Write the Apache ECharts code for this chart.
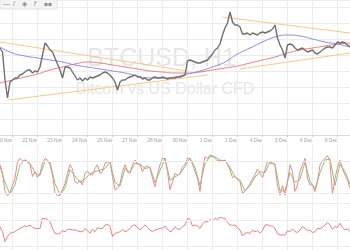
<!DOCTYPE html>
<html>
<head>
<meta charset="utf-8">
<script src="https://cdn.jsdelivr.net/npm/echarts@6/dist/echarts.min.js"></script>
<style>html,body{margin:0;padding:0;background:#fff;}#c{width:350px;height:250px;}</style>
</head>
<body>
<div id="c"></div>
<script>
// ---- data (hourly-ish samples) ----
const tickLabels = ["20 Nov","22 Nov","23 Nov","24 Nov","26 Nov","27 Nov","28 Nov","30 Nov","1 Dec","2 Dec","4 Dec","5 Dec","6 Dec","8 Dec","9 Dec"];

const price = [7910,7870,7590,7410,7570,7590,7610,7610,7640,7650,7670,7690,7690,7660,7680,7670,7720,7840,7960,7930,
7890,7870,7810,7750,7690,7610,7720,7720,7710,7670,7630,7590,7610,7580,7610,7590,7620,7610,7620,7630,
7640,7660,7670,7660,7640,7610,7570,7490,7570,7590,7590,7610,7620,7630,7640,7620,7620,7600,7610,7590,
7590,7610,7620,7610,7610,7620,7610,7600,7610,7610,7610,7620,7620,7630,7640,7780,7790,7780,7770,7760,
7760,7770,7780,7790,7820,7850,7890,7910,7950,8040,8110,8160,8270,8170,8140,8140,8120,8050,8050,8060,
8040,8060,8050,8040,8060,8070,8060,8070,8080,8100,8140,8010,7940,7890,7810,7940,7950,7940,7910,7890,
7900,7910,7890,7870,7880,7890,7860,7850,7870,7890,7910,7920,7920,7910,7940,7970,7960,7970,7960,7940,7920];

// moving averages sampled every 5 points
const maBlue = [7920,7860,7830,7810,7790,7770,7740,7720,7700,7680,7660,7630,7610,7610,7620,7650,7680,7720,7770,7850,7910,7970,8020,8040,8030,8000,7970,7950,7920];
const maRed  = [7560,7590,7620,7650,7690,7720,7750,7770,7760,7740,7720,7700,7680,7670,7660,7660,7670,7690,7710,7730,7760,7790,7820,7860,7890,7910,7930,7950,7960];

// trend lines: [index, price] end points
const upperLeft  = [[0,7970],[75,7680]];
const lowerLeft  = [[3,7390],[83,7640]];
const upperRight = [[89,8220],[140,8060]];
const lowerRight = [[96,7700],[140,7860]];

const stochK = [73,57,23,15,20,35,48,79,85,80,82,78,73,51,60,49,57,76,85,82,
73,54,20,15,16,26,38,57,73,65,41,38,44,35,57,61,54,54,66,73,
57,60,76,78,79,51,26,29,38,60,73,59,57,73,82,74,73,60,69,71,
66,48,32,55,73,85,85,60,26,41,57,53,57,69,73,85,85,74,60,48,
23,63,88,84,91,90,85,80,82,80,82,74,63,49,51,46,41,20,23,30,
38,46,54,65,57,49,63,80,76,76,73,32,16,34,16,41,73,60,23,35,
60,73,85,48,35,35,23,41,73,80,85,90,79,18,48,68,82,65,54,44,29];

// slower line sampled every 2 points
const stochD = [70,40,18,36,72,82,76,58,53,80,78,38,16,30,64,52,40,46,56,60,
63,66,78,40,33,66,59,76,74,66,68,40,62,85,44,50,56,70,85,68,
34,75,88,88,81,81,68,50,44,24,34,50,60,58,78,74,24,24,58,40,
46,78,42,28,58,82,84,34,74,60,36];

const rsi = [60,52,37,45,49.5,50.5,52,55,57,59,61,60,62,59,57,57,57,72.6,72,71,
67.5,57,49.5,48.5,49.5,53.6,52,55.7,55.7,54.6,54.6,53.6,52,52,57,53.6,49.5,55.7,52,58,
57,57,62,63.4,60,44.4,49.5,50.5,52,55.7,52,53.6,57,61.8,62.3,58.7,54.6,58.7,62.3,58.7,
54.6,52,54.6,55.7,57,57.7,60.8,55.7,52,53.6,59.8,56.2,55.7,59.8,62.3,72.6,71,60.8,62.3,60.8,
57,63.9,67.5,67,71,68.5,72.6,71,74,73,72.6,66,62.3,61.8,62.3,58.7,54.6,45.4,49.5,50.5,
49.5,54,52,53.6,49.5,53.6,62.3,62.8,60.8,60.8,57,48.5,47,47,47,53.6,52,56.2,52,51,
54.6,59.8,57,53.6,54.6,50.5,52,57,57,58.7,62.3,66,62.3,55.7,59.8,58.7,65,58.7,54.6,56.7,52];

// ---- chart ----
const N = 146;
const cats = Array.from({length: N}, (_, i) => String(i));
const tickAt = (i) => i % 10 === 5;
const gridColor = '#ececec';
const FONT = 'Liberation Sans, Arial, sans-serif';

function xAx(grid, labels) {
  return {
    type: 'category', gridIndex: grid, data: cats, boundaryGap: false,
    axisLine: { show: labels, lineStyle: { color: '#dcdcdc' } },
    axisTick: { show: labels, interval: tickAt, length: 2, lineStyle: { color: '#d0d0d0' } },
    axisLabel: labels ? {
      show: true, interval: tickAt, align: 'right', margin: 3,
      fontSize: 4.8, color: '#a0a0a0', fontFamily: FONT,
      formatter: (v, i) => tickLabels[(i - 5) / 10]
    } : { show: false },
    splitLine: { show: true, interval: tickAt, lineStyle: { color: gridColor, width: 1 } }
  };
}
function hLines(vals) {
  return { silent: true, symbol: 'none', label: { show: false },
    lineStyle: { color: gridColor, type: 'solid', width: 1 },
    data: vals.map(v => ({ yAxis: v })) };
}
function seg(data, name) {
  return { type: 'line', name, data, xAxisIndex: 0, yAxisIndex: 0, symbol: 'none',
    lineStyle: { color: '#fcc887', width: 1 }, z: 2, silent: true };
}

const chart = echarts.init(document.getElementById('c'), null, { renderer: 'canvas' });
chart.setOption({
  animation: false,
  backgroundColor: '#fff',
  grid: [
    { left: 0, right: -12.5, top: 0, height: 135, outerBoundsMode: 'none' },
    { left: 0, right: -12.5, top: 145, height: 58.7, outerBoundsMode: 'none' },
    { left: 0, right: -12.5, top: 200.5, height: 65, outerBoundsMode: 'none' }
  ],
  xAxis: [ xAx(0, true), xAx(1, false), xAx(2, false) ],
  yAxis: [
    { type: 'value', gridIndex: 0, min: 7040, max: 8390, interval: 160,
      axisLabel: { show: false }, axisLine: { show: false }, axisTick: { show: false },
      splitLine: { lineStyle: { color: gridColor } } },
    { type: 'value', gridIndex: 1, min: 0, max: 110,
      axisLabel: { show: false }, axisLine: { show: false }, axisTick: { show: false },
      splitLine: { show: false } },
    { type: 'value', gridIndex: 2, min: 0, max: 100,
      axisLabel: { show: false }, axisLine: { show: false }, axisTick: { show: false },
      splitLine: { show: false } }
  ],
  graphic: [
    { type: 'text', z: 0, style: { text: 'BTCUSD, H1', x: 161.5, y: 59, font: '25px ' + FONT, fill: '#e6e6e6', align: 'center', verticalAlign: 'middle' } },
    { type: 'text', z: 0, style: { text: 'Bitcoin vs US Dollar CFD', x: 165, y: 90, font: '16px ' + FONT, fill: '#e6e6e6', align: 'center', verticalAlign: 'middle' } },
    { type: 'rect', z: 5, shape: { x: 0, y: -3, width: 57, height: 12 }, style: { fill: '#f3f3f3', stroke: '#e2e2e2' } },
    { type: 'text', z: 6, style: { text: '—', x: 3, y: 4, font: '7px ' + FONT, fill: '#8a8a8a', verticalAlign: 'middle' } },
    { type: 'text', z: 6, style: { text: '/', x: 13, y: 4, font: '7px ' + FONT, fill: '#8a8a8a', verticalAlign: 'middle' } },
    { type: 'text', z: 6, style: { text: '◈', x: 22, y: 4, font: '7px DejaVu Sans', fill: '#8a8a8a', verticalAlign: 'middle' } },
    { type: 'text', z: 6, style: { text: 'f', x: 34, y: 4, font: 'italic 7px ' + FONT, fill: '#8a8a8a', verticalAlign: 'middle' } },
    { type: 'text', z: 6, style: { text: '▪▪', x: 44, y: 4, font: '6px DejaVu Sans', fill: '#8a8a8a', verticalAlign: 'middle' } }
  ],
  series: [
    seg(upperLeft, 'ul'), seg(lowerLeft, 'll'), seg(upperRight, 'ur'), seg(lowerRight, 'lr'),
    { type: 'line', name: 'maRed', xAxisIndex: 0, yAxisIndex: 0, symbol: 'none', smooth: true,
      data: maRed.map((v, k) => [k * 5, v]), lineStyle: { color: '#f07a7a', width: 1 }, z: 3 },
    { type: 'line', name: 'maBlue', xAxisIndex: 0, yAxisIndex: 0, symbol: 'none', smooth: true,
      data: maBlue.map((v, k) => [k * 5, v]), lineStyle: { color: '#8787f2', width: 1 }, z: 3 },
    { type: 'line', name: 'price', xAxisIndex: 0, yAxisIndex: 0, symbol: 'none',
      data: price, lineStyle: { color: '#707070', width: 1.4 }, z: 4 },
    { type: 'line', name: 'stochD', xAxisIndex: 1, yAxisIndex: 1, symbol: 'none',
      data: stochD.map((v, k) => [k * 2, v]), lineStyle: { color: '#7ccc7c', width: 1 }, z: 3,
      markLine: hLines([20, 80, 0]) },
    { type: 'line', name: 'stochK', xAxisIndex: 1, yAxisIndex: 1, symbol: 'none',
      data: stochK, lineStyle: { color: '#f08888', width: 1 }, z: 4 },
    { type: 'line', name: 'rsi', xAxisIndex: 2, yAxisIndex: 2, symbol: 'none',
      data: rsi, lineStyle: { color: '#f27e7e', width: 1 }, z: 4,
      markLine: hLines([70, 30]) }
  ]
});
</script>
</body>
</html>
